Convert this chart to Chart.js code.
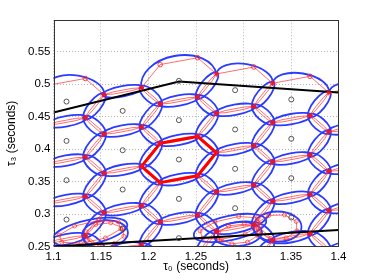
<!DOCTYPE html>
<html><head><meta charset="utf-8">
<script src="https://cdn.jsdelivr.net/npm/chart.js@4.4.1/dist/chart.umd.min.js"></script>
<style>html,body{margin:0;padding:0;background:#fff;}canvas{display:block;}</style>
</head><body>
<canvas id="c" width="374" height="280"></canvas>
<script>
// ---------------- data ----------------
const tau0Ticks = [1.1, 1.15, 1.2, 1.25, 1.3, 1.35, 1.4];
const tau3Ticks = [0.25, 0.3, 0.35, 0.4, 0.45, 0.5, 0.55];

// lattice nodes (red stars): columns i = -2..4, rows j = -2..4
const rNodeT0 = [1.0940, 1.1531, 1.2123, 1.2714, 1.3306, 1.3898, 1.4489];
const lNodeT0 = [1.0743, 1.1334, 1.1926, 1.2517, 1.3109, 1.3700, 1.4292];
const rNodeT3 = [
  [0.6189, 0.5585, 0.4980, 0.4375, 0.3771, 0.3166, 0.2562],
  [0.6046, 0.5442, 0.4837, 0.4232, 0.3628, 0.3023, 0.2419],
  [0.5903, 0.5299, 0.4694, 0.4089, 0.3485, 0.2880, 0.2275],
  [0.5760, 0.5155, 0.4551, 0.3946, 0.3342, 0.2737, 0.2132],
  [0.5617, 0.5012, 0.4408, 0.3803, 0.3199, 0.2594, 0.1989],
  [0.5474, 0.4869, 0.4265, 0.3660, 0.3055, 0.2451, 0.1846],
  [0.5331, 0.4726, 0.4122, 0.3517, 0.2912, 0.2308, 0.1703]];
const lNodeT3 = [
  [0.5834, 0.5229, 0.4625, 0.4020, 0.3415, 0.2811, 0.2206],
  [0.5691, 0.5086, 0.4482, 0.3877, 0.3272, 0.2668, 0.2063],
  [0.5548, 0.4943, 0.4339, 0.3734, 0.3129, 0.2525, 0.1920],
  [0.5405, 0.4800, 0.4195, 0.3591, 0.2986, 0.2382, 0.1777],
  [0.5262, 0.4657, 0.4052, 0.3448, 0.2843, 0.2239, 0.1634],
  [0.5119, 0.4514, 0.3909, 0.3305, 0.2700, 0.2095, 0.1491],
  [0.4975, 0.4371, 0.3766, 0.3162, 0.2557, 0.1952, 0.1348]];

// templates (black circles) and their lattice cell
const templCol = [-2,-2,-2,-2, -1,-1,-1,-1, 0,0,0,0, 1,1,1,1,1, 2,2,2,2,2, 3,3,3,3, 4,4,4,4];
const templRow = [0,1,2,3, 0,1,2,3, 0,1,2,3, -1,0,1,2,3, -1,0,1,2,3, -1,0,1,2, -1,0,1,2];
const templT0 = [1.0545,1.0545,1.0545,1.0545, 1.1137,1.1137,1.1137,1.1137,
                 1.1728,1.1728,1.1728,1.1728, 1.2320,1.2320,1.2320,1.2320,1.2320,
                 1.2912,1.2912,1.2912,1.2912,1.2912, 1.3503,1.3503,1.3503,1.3503,
                 1.4095,1.4095,1.4095,1.4095];
const templT3 = [0.4874,0.4269,0.3665,0.3060, 0.4731,0.4126,0.3522,0.2917,
                 0.4588,0.3983,0.3379,0.2774, 0.5049,0.4445,0.3840,0.3235,0.2631,
                 0.4906,0.4302,0.3697,0.3092,0.2488, 0.4763,0.4159,0.3554,0.2949,
                 0.4620,0.4015,0.3411,0.2806];

// upper boundary paths (wide ellipses, open circles at outer nodes)
const fatPaths = [
  [['R',-2,0], ['L',-1,-1], ['R',-1,0]],
  [['L',0,-1], ['R',0,-1], ['L',1,-2], ['R',1,-1]],
  [['R',1,-1], ['L',2,-2], ['R',2,-1]],
  [['R',2,-1], ['L',3,-2], ['R',3,-1]],
  [['R',3,-1], ['L',4,-2], ['R',4,-1]]];

// highlighted template cell (thick red)
const highlightCol = 1, highlightRow = 1;

// lower boundary ellipses: major-axis end points and axis ratio
const botT0a = [1.0993, 1.1301, 1.2477, 1.2691, 1.3105];
const botT3a = [0.2605, 0.2665, 0.2669, 0.2663, 0.2808];
const botT0b = [1.1776, 1.1783, 1.3239, 1.3194, 1.3611];
const botT3b = [0.2848, 0.2726, 0.2906, 0.2728, 0.2808];
const botRatio = [0.32, 0.6, 0.33, 0.5, 0.63];

// boundary lines
const upperT0 = [1.1, 1.2321, 1.4];
const upperT3 = [0.4562, 0.5038, 0.4869];
const lowerT0 = [1.1, 1.4];
const lowerT3 = [0.2503, 0.2757];

// ---------------- structure ----------------
function nodeRef(t, i, j) {
  const k = i + 2, m = j + 2;
  const xs = t === 'R' ? rNodeT0 : lNodeT0;
  const ys = t === 'R' ? rNodeT3 : lNodeT3;
  if (k < 0 || k >= xs.length || m < 0 || m >= ys[k].length) return null;
  return {id: t + i + ',' + j, t0: xs[k], t3: ys[k][m]};
}
function hexNodes(i, j) {
  return [nodeRef('R',i,j), nodeRef('L',i,j), nodeRef('R',i-1,j+1),
          nodeRef('L',i-1,j), nodeRef('R',i-1,j), nodeRef('L',i,j-1)];
}
const keyOf = (a, b) => a.id < b.id ? a.id + '|' + b.id : b.id + '|' + a.id;

const fatNodes = fatPaths.map(p => p.map(r => nodeRef(r[0], r[1], r[2])));
const fatKeys = new Set();
const circleIds = new Set();
fatNodes.forEach(p => {
  for (let n = 0; n < p.length - 1; n++) fatKeys.add(keyOf(p[n], p[n+1]));
  for (let n = 1; n < p.length - 1; n++) circleIds.add(p[n].id);
});

const thinEdges = [];
const seen = new Set();
const starNodes = new Map();
templCol.forEach((i, q) => {
  const h = hexNodes(i, templRow[q]);
  for (let n = 0; n < 6; n++) {
    const a = h[n], b = h[(n+1) % 6];
    if (!a || !b) continue;
    const key = keyOf(a, b);
    if (seen.has(key) || fatKeys.has(key)) continue;
    seen.add(key);
    thinEdges.push([a, b]);
    [a, b].forEach(p => { if (!circleIds.has(p.id)) starNodes.set(p.id, p); });
  }
});
const circleNodes = [];
fatNodes.forEach(p => p.forEach(r => { if (circleIds.has(r.id) && !circleNodes.includes(r)) circleNodes.push(r); }));

// ---------------- drawing plugin ----------------
const BLUE = '#2b3cff';
const RED = 'rgba(255,40,40,0.85)';
const latticePlugin = {
  id: 'lattice',
  beforeDatasetsDraw(chart) {
    const {ctx, chartArea: ca, scales: {x, y}} = chart;
    const P = (t0, t3) => [x.getPixelForValue(t0), y.getPixelForValue(t3)];
    ctx.save();
    ctx.beginPath(); ctx.rect(ca.left, ca.top, ca.right - ca.left, ca.bottom - ca.top); ctx.clip();

    // thin ellipses
    ctx.strokeStyle = BLUE; ctx.lineWidth = 1.8;
    thinEdges.forEach(([a, b]) => {
      const p = P(a.t0, a.t3), q = P(b.t0, b.t3);
      const dx = q[0]-p[0], dy = q[1]-p[1];
      const ang = Math.atan2(dy, dx);
      const steep = Math.abs(Math.sin(ang)) > 0.42;
      const half = Math.hypot(dx, dy) / 2 + 1.5;
      ctx.beginPath();
      ctx.ellipse((p[0]+q[0])/2, (p[1]+q[1])/2, half, steep ? 6.0 : 5.2, ang, 0, 2*Math.PI);
      ctx.stroke();
    });
    // wide upper arcs
    fatNodes.forEach(path => {
      const pts = path.map(r => P(r.t0, r.t3));
      const p = pts[0], q = pts[pts.length-1];
      const cx = (p[0]+q[0])/2, cy = (p[1]+q[1])/2;
      const ang = Math.atan2(q[1]-p[1], q[0]-p[0]);
      const a = Math.hypot(q[0]-p[0], q[1]-p[1]) / 2;
      let b = 6;
      pts.slice(1, -1).forEach(s => {
        const lx = (s[0]-cx)*Math.cos(ang) + (s[1]-cy)*Math.sin(ang);
        const ly = -(s[0]-cx)*Math.sin(ang) + (s[1]-cy)*Math.cos(ang);
        const need = Math.abs(ly) / Math.sqrt(Math.max(0.05, 1 - (lx/a)*(lx/a))) + 1.2;
        b = Math.max(b, need);
      });
      ctx.beginPath();
      ctx.ellipse(cx, cy, a, b, ang, Math.PI, 2*Math.PI);
      ctx.stroke();
    });
    // lower boundary ellipses
    const botPolys = [];
    botT0a.forEach((_, n) => {
      const p = P(botT0a[n], botT3a[n]), q = P(botT0b[n], botT3b[n]);
      const cx = (p[0]+q[0])/2, cy = (p[1]+q[1])/2;
      const ang = Math.atan2(q[1]-p[1], q[0]-p[0]);
      const a = Math.hypot(q[0]-p[0], q[1]-p[1]) / 2, b = a * botRatio[n];
      ctx.beginPath(); ctx.ellipse(cx, cy, a, b, ang, 0, 2*Math.PI); ctx.stroke();
      const poly = [];
      for (let k = 0; k < 8; k++) {
        const t = (k * 45 + 20) * Math.PI / 180;
        const lx = 0.86 * a * Math.cos(t), ly = 0.82 * b * Math.sin(t);
        poly.push([cx + lx*Math.cos(ang) - ly*Math.sin(ang), cy + lx*Math.sin(ang) + ly*Math.cos(ang)]);
      }
      botPolys.push(poly);
    });

    // red inner lenses
    ctx.strokeStyle = RED; ctx.lineWidth = 0.8;
    thinEdges.forEach(([a, b]) => {
      const p = P(a.t0, a.t3), q = P(b.t0, b.t3);
      const dx = q[0]-p[0], dy = q[1]-p[1], L = Math.hypot(dx, dy);
      const nx = -dy / L * 1.1, ny = dx / L * 1.1;
      ctx.beginPath();
      ctx.moveTo(p[0], p[1]);
      ctx.lineTo(p[0] + dx*0.25 + nx, p[1] + dy*0.25 + ny);
      ctx.lineTo(p[0] + dx*0.75 + nx, p[1] + dy*0.75 + ny);
      ctx.lineTo(q[0], q[1]);
      ctx.lineTo(p[0] + dx*0.75 - nx, p[1] + dy*0.75 - ny);
      ctx.lineTo(p[0] + dx*0.25 - nx, p[1] + dy*0.25 - ny);
      ctx.closePath(); ctx.stroke();
    });
    // red polylines of wide arcs
    fatNodes.forEach(path => {
      ctx.beginPath();
      path.forEach((r, n) => { const s = P(r.t0, r.t3); n ? ctx.lineTo(s[0], s[1]) : ctx.moveTo(s[0], s[1]); });
      ctx.stroke();
    });
    // red polygons in lower ellipses
    botPolys.forEach(poly => {
      ctx.beginPath();
      poly.forEach((s, n) => n ? ctx.lineTo(s[0], s[1]) : ctx.moveTo(s[0], s[1]));
      ctx.closePath(); ctx.stroke();
      poly.forEach(s => { ctx.beginPath(); ctx.arc(s[0], s[1], 2, 0, 2*Math.PI); ctx.stroke(); });
    });
    // highlighted cell
    const hh = hexNodes(highlightCol, highlightRow).map(r => P(r.t0, r.t3));
    ctx.strokeStyle = '#ff0000'; ctx.lineWidth = 3; ctx.lineJoin = 'round';
    ctx.beginPath();
    hh.forEach((s, n) => n ? ctx.lineTo(s[0], s[1]) : ctx.moveTo(s[0], s[1]));
    ctx.closePath(); ctx.stroke();
    ctx.restore();
  },
  afterDraw(chart) {
    const {ctx, chartArea: ca} = chart;
    ctx.save();
    ctx.strokeStyle = '#333'; ctx.lineWidth = 1;
    ctx.strokeRect(Math.round(ca.left) + 0.5, Math.round(ca.top) + 0.5,
                   Math.round(ca.right - ca.left) - 1, Math.round(ca.bottom - ca.top));
    ctx.restore();
  }
};

// ---------------- chart ----------------
const xy = (xs, ys) => xs.map((v, n) => ({x: v, y: ys[n]}));
const font = {family: "'Liberation Sans', Arial, sans-serif", size: 11.5};

new Chart(document.getElementById('c'), {
  type: 'scatter',
  data: {
    datasets: [
      {data: xy(templT0, templT3), pointStyle: 'circle', pointRadius: 2.5,
       borderColor: '#444', borderWidth: 0.9, backgroundColor: 'rgba(0,0,0,0)'},
      {data: [...starNodes.values()].map(r => ({x: r.t0, y: r.t3})), pointStyle: 'star',
       pointRadius: 2.8, borderColor: '#ff1010', borderWidth: 1, backgroundColor: '#ff1010'},
      {data: circleNodes.map(r => ({x: r.t0, y: r.t3})), pointStyle: 'circle',
       pointRadius: 2.3, borderColor: '#ff3030', borderWidth: 0.9, backgroundColor: 'rgba(0,0,0,0)'},
      {type: 'line', data: xy(upperT0, upperT3), borderColor: '#000', borderWidth: 2,
       pointRadius: 0, fill: false, tension: 0},
      {type: 'line', data: xy(lowerT0, lowerT3), borderColor: '#000', borderWidth: 2,
       pointRadius: 0, fill: false, tension: 0}
    ]
  },
  options: {
    responsive: false, animation: false, devicePixelRatio: 1,
    layout: {padding: {left: 0, right: 35.5, top: 20.3, bottom: 0}},
    plugins: {legend: {display: false}, tooltip: {enabled: false}},
    scales: {
      x: {
        type: 'linear', min: 1.1, max: 1.4,
        afterBuildTicks(s) { s.ticks = tau0Ticks.map(v => ({value: v})); },
        afterFit(s) { s.height = 33.3; },
        ticks: {font, color: '#000', padding: 3, maxRotation: 0, autoSkip: false,
                callback: v => String(+(+v).toFixed(2))},
        grid: {color: '#b4b4b4', lineWidth: 1, drawTicks: false},
        border: {display: false, dash: [1, 2]},
        title: {display: true, text: 'τ₀ (seconds)', color: '#000',
                font: {family: "'Liberation Sans', Arial, sans-serif", size: 12},
                padding: {top: 0, bottom: 6}}
      },
      y: {
        type: 'linear', min: 0.25, max: 0.598,
        afterBuildTicks(s) { s.ticks = tau3Ticks.map(v => ({value: v})); },
        afterFit(s) { s.width = 53.5; },
        ticks: {font, color: '#000', padding: 3, autoSkip: false,
                callback: v => String(+(+v).toFixed(2))},
        grid: {color: '#b4b4b4', lineWidth: 1, drawTicks: false},
        border: {display: false, dash: [1, 2]},
        title: {display: true, text: 'τ₃ (seconds)', color: '#000',
                font: {family: "'Liberation Sans', Arial, sans-serif", size: 12},
                padding: {top: 4, bottom: 0}}
      }
    }
  },
  plugins: [latticePlugin]
});
</script>
</body></html>
